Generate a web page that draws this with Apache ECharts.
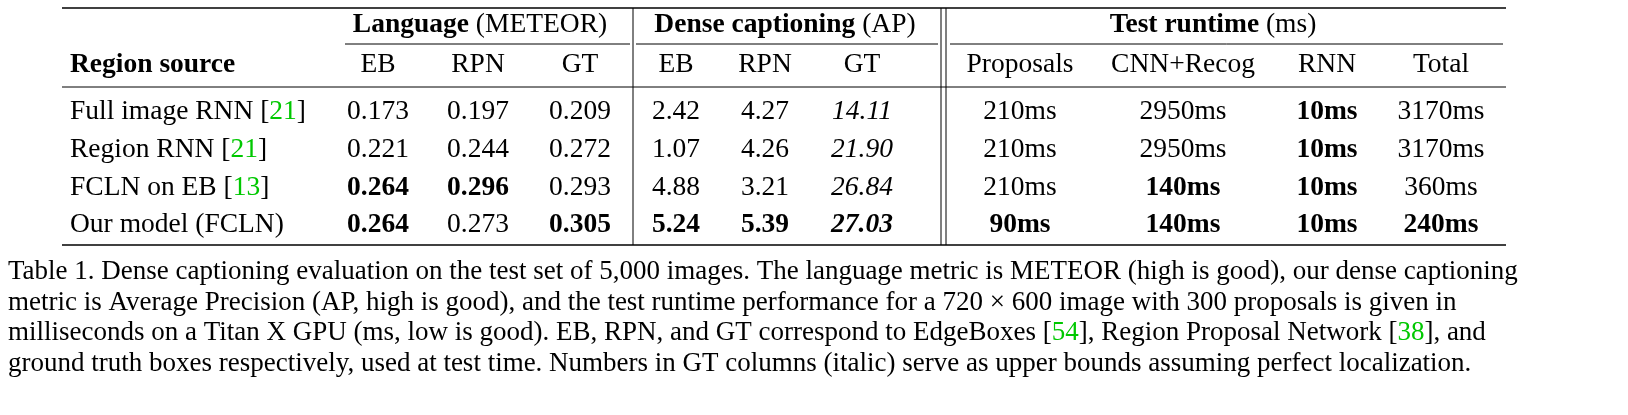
<!DOCTYPE html>
<html>
<head>
<meta charset="utf-8">
<script src="https://cdn.jsdelivr.net/npm/echarts@6/dist/echarts.min.js"></script>
<style>html,body{margin:0;background:#fff}#c{width:1628px;height:415px}</style>
</head>
<body>
<div id="c"></div>
<script>
// ** = bold, * = italic, [n] = green citation
var groups = ['**Language** (METEOR)', '**Dense captioning** (AP)', '**Test runtime** (ms)'];
var columns = ['**Region source**', 'EB', 'RPN', 'GT', 'EB', 'RPN', 'GT', 'Proposals', 'CNN+Recog', 'RNN', 'Total'];
var sources = ['Full image RNN [21]', 'Region RNN [21]', 'FCLN on EB [13]', 'Our model (FCLN)'];
var meteor = [
  ['0.173', '0.197', '0.209'],
  ['0.221', '0.244', '0.272'],
  ['**0.264**', '**0.296**', '0.293'],
  ['**0.264**', '0.273', '**0.305**']
];
var ap = [
  ['2.42', '4.27', '*14.11*'],
  ['1.07', '4.26', '*21.90*'],
  ['4.88', '3.21', '*26.84*'],
  ['**5.24**', '**5.39**', '***27.03***']
];
var runtime = [
  ['210ms', '2950ms', '**10ms**', '3170ms'],
  ['210ms', '2950ms', '**10ms**', '3170ms'],
  ['210ms', '**140ms**', '**10ms**', '360ms'],
  ['**90ms**', '**140ms**', '**10ms**', '**240ms**']
];
var caption = [
  'Table 1. Dense captioning evaluation on the test set of 5,000 images. The language metric is METEOR (high is good), our dense captioning',
  'metric is Average Precision (AP, high is good), and the test runtime performance for a 720 \u00d7 600 image with 300 proposals is given in',
  'milliseconds on a Titan X GPU (ms, low is good). EB, RPN, and GT correspond to EdgeBoxes [54], Region Proposal Network [38], and',
  'ground truth boxes respectively, used at test time. Numbers in GT columns (italic) serve as upper bounds assuming perfect localization.'
];

var colX = [70, 378, 478, 580, 676, 765, 862, 1020, 1183, 1327, 1441];
var groupX = [480, 785, 1213];
var rowY = [112, 150, 188, 225];
var FONT = '"Liberation Serif","DejaVu Serif",serif';

function rich(s) {
  return s.replace(/\*\*\*(.+?)\*\*\*/g, '{bi|$1}')
          .replace(/\*\*(.+?)\*\*/g, '{b|$1}')
          .replace(/\*(.+?)\*/g, '{i|$1}')
          .replace(/\[(\d+)\]/g, '[{g|$1}]');
}
function richStyles(size) {
  var base = {fontFamily: FONT, fontSize: size, fill: '#000'};
  return {
    b: Object.assign({}, base, {fontWeight: 'bold'}),
    i: Object.assign({}, base, {fontStyle: 'italic'}),
    bi: Object.assign({}, base, {fontWeight: 'bold', fontStyle: 'italic'}),
    g: Object.assign({}, base, {fill: '#00c800'})
  };
}
function txt(s, x, y, align, size) {
  size = size || 27.5;
  return {type: 'text', x: x, y: y, style: {
    text: rich(s), x: 0, y: 0, align: align, verticalAlign: 'middle',
    font: size + 'px ' + FONT, fill: '#000', rich: richStyles(size)}};
}
function line(x1, y1, x2, y2, w) {
  return {type: 'line', shape: {x1: x1, y1: y1, x2: x2, y2: y2}, style: {stroke: '#000', lineWidth: w || 1}};
}

var els = [];
els.push(line(62, 8, 1506, 8, 1.5), line(62, 87, 1506, 87, 1), line(62, 245, 1506, 245, 1.5));
els.push(line(345, 44, 630, 44), line(636, 44, 938, 44), line(950, 44, 1503, 44));
els.push(line(633, 8, 633, 245), line(941, 8, 941, 245), line(946, 8, 946, 245));
groups.forEach(function (g, i) { els.push(txt(g, groupX[i], 25, 'center')); });
columns.forEach(function (c, i) { els.push(txt(c, colX[i], 65, i ? 'center' : 'left')); });
sources.forEach(function (s, r) {
  var cells = [s].concat(meteor[r], ap[r], runtime[r]);
  cells.forEach(function (c, i) { els.push(txt(c, colX[i], rowY[r], i ? 'center' : 'left')); });
});
caption.forEach(function (c, i) { els.push(txt(c, 8, 272 + i * 30.7, 'left', 27)); });

var chart = echarts.init(document.getElementById('c'));
chart.setOption({animation: false, graphic: {elements: els}});
</script>
</body>
</html>
